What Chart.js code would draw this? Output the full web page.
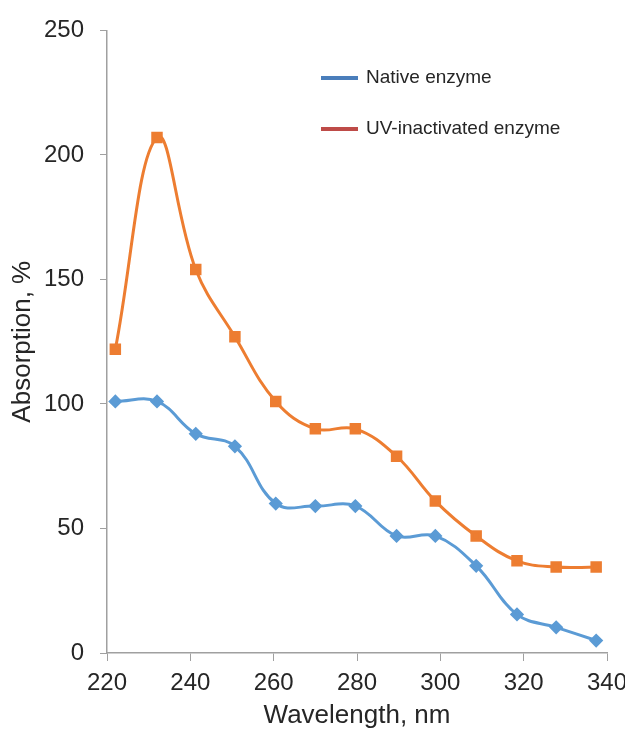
<!DOCTYPE html>
<html>
<head>
<meta charset="utf-8">
<script src="https://cdn.jsdelivr.net/npm/chart.js@4"></script>
<style>
  html, body { margin: 0; padding: 0; background: #fff; overflow: hidden; }
  #wrap { width: 645px; height: 731px; position: relative; }
</style>
</head>
<body>
<div id="wrap"><canvas id="chart"></canvas></div>
<script>
// Data
const wavelengths = [222, 232, 241.3, 250.7, 260.5, 270, 279.6, 289.5, 298.8, 308.6, 318.4, 327.8, 337.4];
const nativeEnzyme = [101, 101, 88, 83, 60, 59, 59, 47, 47, 35, 15.5, 10.3, 5];
const uvInactivated = [122, 207, 154, 127, 101, 90, 90, 79, 61, 47, 37, 34.5, 34.5];
const legendLabels = ['Native enzyme', 'UV-inactivated enzyme'];
const legendColors = ['#4a7ebb', '#be4b48'];

const toPoints = ys => ys.map((y, i) => ({ x: wavelengths[i], y: y }));

// Excel-style legend drawn inside the plot area
const insideLegend = {
    id: 'insideLegend',
    afterDraw(chart) {
        const ctx = chart.ctx;
        ctx.save();
        ctx.font = '19px "Liberation Sans", Arial, sans-serif';
        ctx.textBaseline = 'middle';
        legendLabels.forEach((label, i) => {
            const y = 78 + i * 51;
            ctx.strokeStyle = legendColors[i];
            ctx.lineWidth = 4;
            ctx.beginPath();
            ctx.moveTo(321, y);
            ctx.lineTo(358, y);
            ctx.stroke();
            ctx.fillStyle = '#262626';
            ctx.fillText(label, 366, y);
        });
        ctx.restore();
    }
};

const axisColor = '#a0a0a0';
const tickFont = { family: '"Liberation Sans", Arial, sans-serif', size: 24 };
const titleFont = { family: '"Liberation Sans", Arial, sans-serif', size: 26 };

new Chart(document.getElementById('chart').getContext('2d'), {
    type: 'line',
    data: {
        datasets: [
            {
                label: legendLabels[0],
                data: toPoints(nativeEnzyme),
                borderColor: '#5b9bd5',
                backgroundColor: '#5b9bd5',
                borderWidth: 3,
                tension: 0.4,
                pointStyle: 'rectRot',
                pointRadius: 5,
                pointHoverRadius: 5
            },
            {
                label: legendLabels[1],
                data: toPoints(uvInactivated),
                borderColor: '#ed7d31',
                backgroundColor: '#ed7d31',
                borderWidth: 3,
                tension: 0.4,
                pointStyle: 'rect',
                pointRadius: 6,
                pointHoverRadius: 6
            }
        ]
    },
    options: {
        responsive: true,
        maintainAspectRatio: false,
        animation: false,
        layout: { padding: { top: 28, right: 38, left: 0, bottom: 0 } },
        plugins: {
            legend: { display: false },
            tooltip: { enabled: false }
        },
        scales: {
            x: {
                type: 'linear',
                min: 220,
                max: 340,
                ticks: { stepSize: 20, color: '#262626', font: tickFont, padding: 8 },
                grid: { drawOnChartArea: false, color: axisColor, tickLength: 8 },
                border: { color: axisColor, width: 1.5 },
                title: { display: true, text: 'Wavelength, nm', color: '#262626', font: titleFont, padding: { top: 0, bottom: 0 } },
                afterFit: s => { s.height = 78; }
            },
            y: {
                min: 0,
                max: 250,
                ticks: { stepSize: 50, color: '#262626', font: tickFont, padding: 16 },
                grid: { drawOnChartArea: false, color: axisColor, tickLength: 7 },
                border: { color: axisColor, width: 1.5 },
                title: { display: true, text: 'Absorption, %', color: '#262626', font: titleFont, padding: { top: 7, bottom: 0 } },
                afterFit: s => { s.width = 107; }
            }
        }
    },
    plugins: [insideLegend]
});
</script>
</body>
</html>
